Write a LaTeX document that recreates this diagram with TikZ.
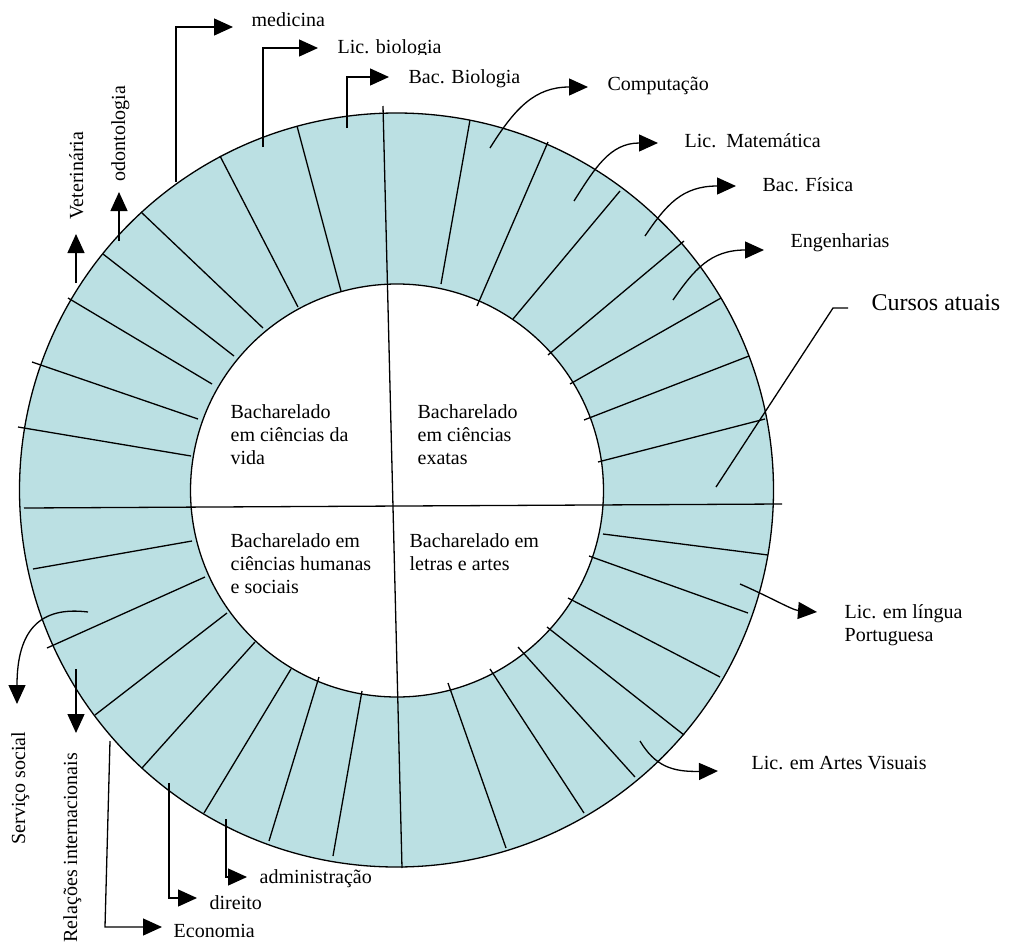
\documentclass[tikz,border=0pt]{standalone}
\usepackage{fontspec}
\setmainfont{Liberation Serif}
\usetikzlibrary{arrows.meta}
\definecolor{ringblue}{RGB}{187,224,227}

\begin{document}
\begin{tikzpicture}[x=1pt, y=-1pt, line width=1.3pt,
            lbl/.style={anchor=base west, inner sep=0pt, font=\fontsize{20}{23.3}\selectfont},
            area/.style={lbl, align=left},
            side/.style={lbl, rotate=90},
            arr/.style={-{Triangle[length=19pt,width=17pt]}}]
        \useasboundingbox (0,0) rectangle (1010,945);
        \coordinate (c) at (396.5,490);
        \coordinate (ci) at (397,490.5);
        \fill[ringblue] (c) circle (377);
        \fill[white] (ci) circle (206.5);
        \draw (c) circle (377);
        \draw (ci) circle (206.5);
        \draw (297,126) -- (341,291)  (220,156) -- (298,307)  (141,212) -- (263,328)
              (103,254) -- (234,356)  (68,298) -- (212,384)   (32,362) -- (198,419)
              (18,427) -- (191,456)
              (470,120) -- (441,284)  (548,142) -- (477,306)  (620,191) -- (513,319)
              (684,241) -- (548,355)  (721,298) -- (570,384)  (749,356) -- (584,420)
              (765,419) -- (598,462)
              (768,555) -- (603,534)  (748,613) -- (589,556)  (720,677) -- (568,598)
              (684,735) -- (547,627)  (635,777) -- (518,647)  (584,813) -- (490,669)
              (506,848) -- (448,683)
              (33,569) -- (192,541)   (47,648) -- (205,577)   (95,715) -- (227,613)
              (142,768) -- (255,642)  (204,813) -- (291,669)  (269,841) -- (319,677)
              (333,856) -- (362,691);
        \draw (383,106) -- (402,868);
        \draw (24,508) -- (782,504);
        \node[area] (vida) at (230,464.6) {Bacharelado\\em ciências da\\vida};
        \node[area] (exatas) at (417,464.6) {Bacharelado\\em ciências\\exatas};
        \node[area] (humanas) at (230,593.6) {Bacharelado em\\ciências humanas\\e sociais};
        \node[area] (letras) at (409,570.3) {Bacharelado em\\letras e artes};
        \node[lbl] (medicina) at (251,26) {medicina};
        \begin{scope}
            \clip (330,20) rectangle (460,54);
            \node[lbl] (licbio) at (337,53) {Lic. biologia};
        \end{scope}
        \node[lbl] (bacbio) at (408,83) {Bac. Biologia};
        \node[lbl] (comp) at (607,90) {Computação};
        \node[lbl] (licmat) at (684,147) {Lic.\ \ Matemática};
        \node[lbl] (fisica) at (762,191) {Bac. Física};
        \node[lbl] (eng) at (790,247) {Engenharias};
        \node[lbl, font=\fontsize{24}{28}\selectfont] (cursos) at (871,310) {Cursos atuais};
        \node[area] (lingua) at (844,641.3) {Lic. em língua\\Portuguesa};
        \node[lbl] (artes) at (751,769) {Lic. em Artes Visuais};
        \node[lbl] (admin) at (259,883) {administração};
        \begin{scope}
            \clip (200,880) rectangle (290,909);
            \node[lbl] (direito) at (209,909) {direito};
        \end{scope}
        \node[lbl] (economia) at (173,937) {Economia};
        \node[side] (vet) at (83,220) {Veterinária};
        \node[side] (odonto) at (125,182) {odontologia};
        \node[side] (servico) at (25,845) {Serviço social};
        \node[side] (relacoes) at (77,943) {Relações internacionais};
        \coordinate (med0) at (176,182);   \coordinate (med1) at (233,27);
        \coordinate (lb0) at (263,147);    \coordinate (lb1) at (318,48);
        \coordinate (bb0) at (347,128);    \coordinate (bb1) at (389,77);
        \coordinate (vet0) at (76,283);    \coordinate (vet1) at (76,234);
        \coordinate (od0) at (119,241);    \coordinate (od1) at (119,192);
        \coordinate (co0) at (490,148);    \coordinate (co1) at (588,87);
        \coordinate (lm0) at (574,201);    \coordinate (lm1) at (658,143);
        \coordinate (fi0) at (645,236);    \coordinate (fi1) at (736,186);
        \coordinate (en0) at (673,300);    \coordinate (en1) at (764,250);
        \coordinate (cu0) at (716,487);    \coordinate (cu1) at (848,308);
        \coordinate (li0) at (740,584);    \coordinate (li1) at (817,612);
        \coordinate (av0) at (640,741);    \coordinate (av1) at (718,771);
        \coordinate (ad0) at (226,819);    \coordinate (ad1) at (247,877);
        \coordinate (di0) at (169,783);    \coordinate (di1) at (197,898);
        \coordinate (ec0) at (110,741);    \coordinate (ec1) at (162,927);
        \coordinate (rel0) at (76,669);    \coordinate (rel1) at (76,733);
        \coordinate (ss0) at (88,612);     \coordinate (ss1) at (17,704);
        \draw[arr] (med0) |- (med1);
        \draw[arr] (lb0) |- (lb1);
        \draw[arr] (bb0) |- (bb1);
        \draw[arr] (vet0) -- (vet1);
        \draw[arr] (od0) -- (od1);
        \draw[arr] (co0) .. controls (515,108) and (535,87) .. (co1);
        \draw[arr] (lm0) .. controls (595,168) and (610,143) .. (lm1);
        \draw[arr] (fi0) .. controls (666,205) and (682,186) .. (fi1);
        \draw[arr] (en0) .. controls (694,270) and (710,250) .. (en1);
        \draw (cu0) -- (833,308) -- (cu1);
        \draw[arr] (li0) .. controls (770,597) and (792,610) .. (li1);
        \draw[arr] (av0) .. controls (655,766) and (672,772) .. (av1);
        \draw[arr] (ad0) |- (ad1);
        \draw[arr] (di0) |- (di1);
        \draw[arr] (ec0) -- (105,927) -- (ec1);
        \draw[arr] (rel0) -- (rel1);
        \draw[arr] (ss0) .. controls (40,606) and (17,630) .. (ss1);
\end{tikzpicture}
\end{document}
